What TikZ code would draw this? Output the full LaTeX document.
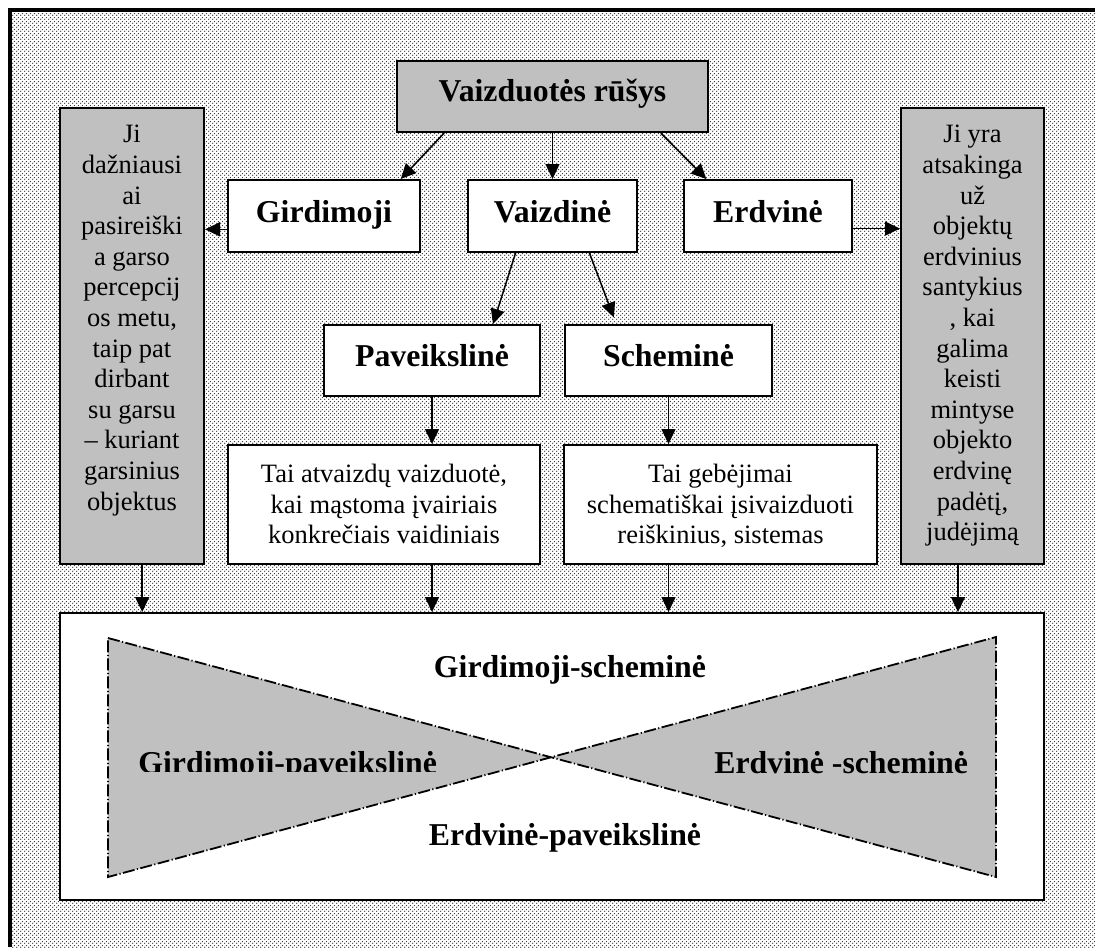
\documentclass[tikz,border=0pt]{standalone}
\usepackage{fontspec}
\setmainfont{Liberation Serif}
\usetikzlibrary{arrows.meta,calc,fit,patterns}

\definecolor{boxgray}{RGB}{192,192,192}

% fine staggered halftone dots for the page background
\pgfdeclarepatternformonly{finedots}{\pgfqpoint{0pt}{0pt}}{\pgfqpoint{2pt}{2pt}}{\pgfqpoint{2pt}{2pt}}{%
  \pgfpathcircle{\pgfqpoint{0.5pt}{0.5pt}}{0.38pt}%
  \pgfpathcircle{\pgfqpoint{1.5pt}{1.5pt}}{0.38pt}%
  \pgfusepath{fill}}

\tikzset{
  box/.style={draw, line width=1pt, fill=white, inner sep=0pt},
  gbox/.style={box, fill=boxgray},
  lbl/.style={font=\fontsize{15.9}{18}\selectfont\bfseries, inner sep=0pt, anchor=base},
  txt/.style={font=\fontsize{13.25}{15.3}\selectfont, align=center, inner sep=0pt, anchor=north},
  arr/.style={line width=0.75pt, -{Triangle[length=7.5pt,width=7pt]}},
  bowtie/.style={fill=boxgray, line width=0.9pt,
    dash pattern=on 6pt off 1.2pt on 0.6pt off 1.2pt},
}

\begin{document}
\begin{tikzpicture}[x=0.5pt,y=-0.5pt]
\useasboundingbox (0,0) rectangle (1095,947);
\clip (0,0) rectangle (1095,947);

% background and frame
\fill[pattern=finedots, pattern color=black!85] (10,11) rectangle (1095,947);
\draw[line width=2pt] (9.5,947) -- (9.5,10.5) -- (1095,10.5);

% boxes
\node[gbox, fit={(397,61) (708,132)}] (title) {};
\node[gbox, fit={(60,108) (204,564)}] (lbox) {};
\node[gbox, fit={(901,108) (1044,564)}] (rbox) {};
\node[box, fit={(228,180) (420,252)}] (gird) {};
\node[box, fit={(468,180) (637,252)}] (vaiz) {};
\node[box, fit={(684,180) (852,252)}] (erdv) {};
\node[box, fit={(324,325) (540,396)}] (pav) {};
\node[box, fit={(565,325) (772,396)}] (sch) {};
\node[box, fit={(228,445) (540,564)}] (ltext) {};
\node[box, fit={(564,445) (877,564)}] (rtext) {};
\node[box, fit={(60,613) (1044,900)}] (big) {};

% labels
\node[lbl] (titleT) at (552.5,102) {Vaizduotės rūšys};
\node[lbl] (girdT) at (324,222) {Girdimoji};
\node[lbl] (vaizT) at (552.5,222) {Vaizdinė};
\node[lbl] (erdvT) at (768,222) {Erdvinė};
\node[lbl] (pavT) at (432,366) {Paveikslinė};
\node[lbl] (schT) at (668.5,366) {Scheminė};

\node[txt] (lboxT) at (132,125) {Ji\\dažniausi\\ai\\pasireiški\\a garso\\percepcij\\os metu,\\taip pat\\dirbant\\su garsu\\– kuriant\\garsinius\\objektus};
\node[txt] (rboxT) at (972.5,125) {Ji yra\\atsakinga\\už\\objektų\\erdvinius\\santykius\\, kai\\galima\\keisti\\mintyse\\objekto\\erdvinę\\padėtį,\\judėjimą};
\node[txt] (ltextT) at (384,464) {Tai atvaizdų vaizduotė,\\kai mąstoma įvairiais\\konkrečiais vaidiniais};
\node[txt] (rtextT) at (720.5,464) {Tai gebėjimai\\schematiškai įsivaizduoti\\reiškinius, sistemas};

% connectors
\draw[arr] ($(title.south west)!0.154!(title.south east)$) -- ($(gird.north west)!0.896!(gird.north east)$);
\draw[arr] (title.south) -- (vaiz.north);
\draw[arr] ($(title.south west)!0.846!(title.south east)$) -- ($(erdv.north west)!0.137!(erdv.north east)$);

\coordinate (ga) at ($(gird.south west)!0.32!(gird.north west)$);
\draw[arr] (ga) -- (ga -| lbox.east);
\coordinate (ea) at ($(erdv.south east)!0.33!(erdv.north east)$);
\draw[arr] (ea) -- (ea -| rbox.west);

\draw[arr] ($(vaiz.south west)!0.284!(vaiz.south east)$) -- ($(pav.north west)!0.78!(pav.north east)$);
\draw[arr, shorten >=3.5pt] ($(vaiz.south west)!0.716!(vaiz.south east)$) -- ($(sch.north west)!0.25!(sch.north east)$);

\draw[arr] (pav.south) -- (ltext.north -| pav.south);
\draw[arr] (sch.south) -- (rtext.north -| sch.south);

\coordinate (lb) at ($(lbox.south west)!0.57!(lbox.south east)$);
\draw[arr] (lb) -- (big.north -| lb);
\draw[arr] (ltext.south -| pav.south) -- (big.north -| pav.south);
\draw[arr] (rtext.south -| sch.south) -- (big.north -| sch.south);
\coordinate (rb) at ($(rbox.south west)!0.4!(rbox.south east)$);
\draw[arr] (rb) -- (big.north -| rb);

% crossed triangles inside the bottom box
\draw[bowtie] (108,638) -- (996,877) -- (996,637) -- (108,877) -- cycle;

\node[lbl] (gs) at (570,677) {Girdimoji-scheminė};
\begin{scope}
  \clip (100,740) rectangle (470,771.5);
  \node[lbl, anchor=base west] (gp) at (138,773) {Girdimoji-paveikslinė};
\end{scope}
\node[lbl, anchor=base west] (es) at (714,773) {Erdvinė -scheminė};
\node[lbl] (ep) at (565,845) {Erdvinė-paveikslinė};
\end{tikzpicture}
\end{document}
